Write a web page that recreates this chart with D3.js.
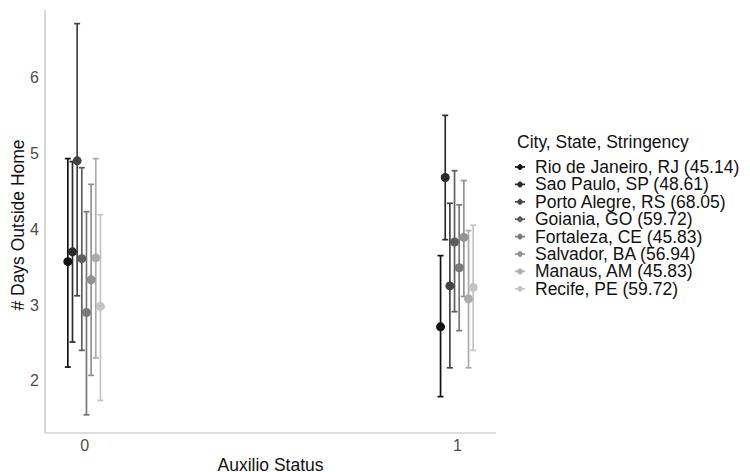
<!DOCTYPE html>
<html>
<head>
<meta charset="utf-8">
<script src="https://cdn.jsdelivr.net/npm/d3@7"></script>
<style>
  body { margin: 0; background: #fff; }
  svg text { font-family: "Liberation Sans", Arial, sans-serif; }
</style>
</head>
<body>
<svg id="chart" width="750" height="472"></svg>
<script>
const cities = ["Rio de Janeiro, RJ (45.14)", "Sao Paulo, SP (48.61)", "Porto Alegre, RS (68.05)",
  "Goiania, GO (59.72)", "Fortaleza, CE (45.83)", "Salvador, BA (56.94)", "Manaus, AM (45.83)", "Recife, PE (59.72)"];
const statuses = [0, 1];
// mean, lower, upper per city for status 0 and 1
const mean0  = [3.57, 3.70, 4.90, 3.61, 2.90, 3.33, 3.62, 2.98];
const lower0 = [2.18, 2.51, 3.12, 2.40, 1.55, 2.07, 2.30, 1.74];
const upper0 = [4.93, 4.89, 6.71, 4.81, 4.23, 4.59, 4.93, 4.19];
const mean1  = [2.71, 4.68, 3.25, 3.83, 3.49, 3.89, 3.08, 3.23];
const lower1 = [1.79, 3.86, 2.17, 2.91, 2.66, 3.11, 2.17, 2.40];
const upper1 = [3.65, 5.50, 4.34, 4.77, 4.32, 4.64, 3.98, 4.05];
const yTicks = [2, 3, 4, 5, 6];
const colors = ["#111111", "#2b2b2b", "#444444", "#5e5e5e", "#787878", "#929292", "#ababab", "#c4c4c4"];

const svg = d3.select("#chart");
const pLeft = 45, pRight = 496, pTop = 10, pBottom = 433;

const x = d3.scaleLinear().domain([-0.105, 1.105]).range([pLeft, pRight]);
const y = d3.scaleLinear().domain([1.31, 6.89]).range([pBottom, pTop]);
const dodge = d3.scaleBand().domain(d3.range(cities.length)).range([-0.05, 0.05]);

const data = [];
statuses.forEach((s, si) => {
  const m = si === 0 ? mean0 : mean1, lo = si === 0 ? lower0 : lower1, up = si === 0 ? upper0 : upper1;
  cities.forEach((c, i) => data.push({ s, i, mean: m[i], lo: lo[i], up: up[i] }));
});
const xp = d => x(d.s + dodge(d.i) + dodge.bandwidth() / 2);

// axes
const gy = svg.append("g").attr("transform", `translate(${pLeft},0)`)
  .call(d3.axisLeft(y).tickValues(yTicks).tickSize(0).tickPadding(6).tickFormat(d3.format("d")));
gy.select(".domain").attr("stroke", "#bdbdbd").attr("stroke-width", 1.2).attr("d", `M0,${pTop}V${pBottom}`);
gy.selectAll("text").attr("fill", "#4d4d4d").attr("font-size", 16);

const gx = svg.append("g").attr("transform", `translate(0,${pBottom})`)
  .call(d3.axisBottom(x).tickValues(statuses).tickSize(0).tickPadding(7).tickFormat(d3.format("d")));
gx.select(".domain").attr("stroke", "#bdbdbd").attr("stroke-width", 1.2).attr("d", `M${pLeft},0H${pRight}`);
gx.selectAll("text").attr("fill", "#4d4d4d").attr("font-size", 16);

svg.append("text").attr("x", (pLeft + pRight) / 2).attr("y", 471).attr("text-anchor", "middle")
  .attr("font-size", 17.5).attr("fill", "#111").text("Auxilio Status");
svg.append("text").attr("transform", `translate(24,225) rotate(-90)`).attr("text-anchor", "middle")
  .attr("font-size", 17.5).attr("fill", "#111").text("# Days Outside Home");

// error bars
const g = svg.append("g");
const cap = 3;
data.forEach(d => {
  const cx = xp(d), col = colors[d.i];
  g.append("line").attr("x1", cx).attr("x2", cx).attr("y1", y(d.lo)).attr("y2", y(d.up))
    .attr("stroke", col).attr("stroke-width", 1.7);
  [d.lo, d.up].forEach(v => g.append("line").attr("x1", cx - cap).attr("x2", cx + cap)
    .attr("y1", y(v)).attr("y2", y(v)).attr("stroke", col).attr("stroke-width", 1.7));
});
data.forEach(d => {
  g.append("circle").attr("cx", xp(d)).attr("cy", y(d.mean)).attr("r", 4.5).attr("fill", colors[d.i]);
});

// legend
const lg = svg.append("g").attr("transform", "translate(515,0)");
lg.append("text").attr("x", 2).attr("y", 148).attr("font-size", 17.5).attr("fill", "#111").text("City, State, Stringency");
cities.forEach((c, i) => {
  const cy = 167 + i * 17.4;
  lg.append("line").attr("x1", 0).attr("x2", 10).attr("y1", cy).attr("y2", cy).attr("stroke", colors[i]).attr("stroke-width", 1.7);
  lg.append("line").attr("x1", 5).attr("x2", 5).attr("y1", cy - 3).attr("y2", cy + 3).attr("stroke", colors[i]).attr("stroke-width", 1.7);
  lg.append("circle").attr("cx", 5).attr("cy", cy).attr("r", 2.6).attr("fill", colors[i]);
  lg.append("text").attr("x", 20).attr("y", cy + 6).attr("font-size", 17.5).attr("fill", "#111").text(c);
});
</script>
</body>
</html>
